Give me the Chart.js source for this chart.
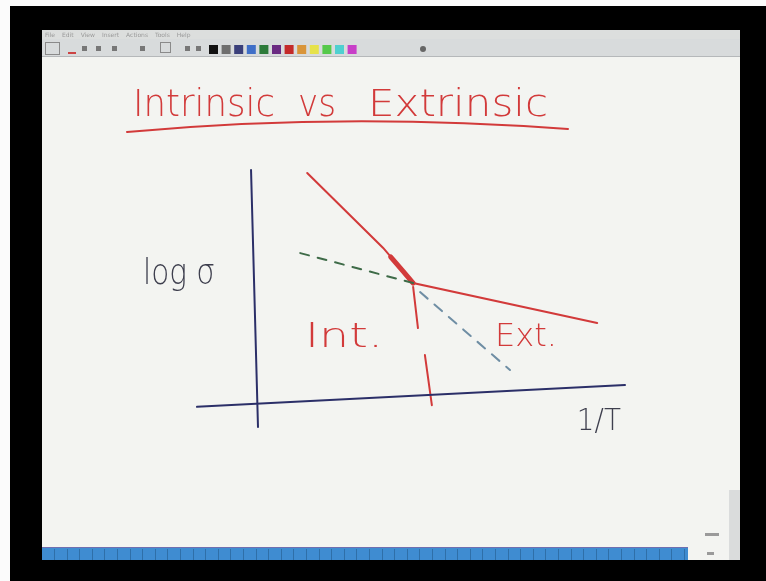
<!DOCTYPE html>
<html>
<head>
<meta charset="utf-8">
<title>Intrinsic vs Extrinsic</title>
<script src="https://cdn.jsdelivr.net/npm/chart.js@4/dist/chart.umd.min.js"></script>
<style>
  html, body { margin: 0; padding: 0; background: #000; overflow: hidden; }
  canvas { display: block; }
</style>
</head>
<body>
<canvas id="c" width="766" height="581"></canvas>
<script>
// Axes of the sketch (1/T horizontal, log sigma vertical), slightly hand-tilted
const axisYx = [0.01, 0.14];
const axisYy = [5.50, -0.50];
const axisXx = [-1.00, 7.00];
const axisXy = [-0.03, 0.48];

// Measured conductivity: steep intrinsic branch, then shallow extrinsic branch
const measuredX = [1.06, 2.48, 3.04, 6.48];
const measuredY = [5.43, 3.68, 2.86, 1.93];

// Retraced pen strokes near the knee
const kneeX = [2.62, 2.85, 3.04];
const kneeY = [3.47, 3.14, 2.86];

// Extrinsic branch extended to high temperature (dashed)
const extrinsicExtX = [0.93, 3.04];
const extrinsicExtY = [3.56, 2.86];

// Intrinsic branch extended to low temperature (dashed)
const intrinsicExtX = [3.17, 4.85];
const intrinsicExtY = [2.65, 0.83];

// Divider between the two regimes, drawn as two strokes
const dividerUpperX = [3.04, 3.13];
const dividerUpperY = [2.77, 1.81];
const dividerLowerX = [3.26, 3.39];
const dividerLowerY = [1.18, 0.01];

// Region and axis labels
const labelText = ['Int.', 'Ext.', 'log σ', '1/T'];
const labelX = [1.02, 4.57, -2.01, 6.10];
const labelY = [1.58, 1.58, 3.05, -0.38];

// Title words with their left edge and width on the page
const titleWords = ['Intrinsic', 'vs', 'Extrinsic'];
const titleLeft = [133, 298, 368];
const titleWidth = [142, 38, 180];

const swatchColors = ['#111111', '#6e6e6e', '#3a3f7a', '#3f6fc8', '#2c7a3a', '#6a2a82',
                      '#c42a2a', '#d9953a', '#e6e24a', '#55c94a', '#4fd0d0', '#c83fc8'];

const pts = (xs, ys) => xs.map((x, i) => ({ x: x, y: ys[i] }));

const RED = '#d23a3a';
const INK = '#2b2f68';
const PENCIL = '#3e3f4e';

// draws a word stretched to a given width
function fitText(ctx, text, x, y, w) {
  const m = ctx.measureText(text).width;
  ctx.save();
  ctx.translate(x, y);
  ctx.scale(w / m, 1);
  ctx.fillText(text, 0, 0);
  ctx.restore();
}

const framePlugin = {
  id: 'frame',
  beforeDraw(chart) {
    const ctx = chart.ctx;
    ctx.save();
    ctx.fillStyle = '#000';
    ctx.fillRect(0, 0, 766, 581);
    ctx.fillStyle = '#fbfbfb';
    ctx.fillRect(0, 0, 10, 581);
    ctx.fillRect(0, 0, 766, 6);
    // page
    ctx.fillStyle = '#f3f4f1';
    ctx.fillRect(42, 30, 698, 530);
    // menu bar
    ctx.fillStyle = '#dcdedd';
    ctx.fillRect(42, 30, 698, 9);
    ctx.fillStyle = '#9a9a9a';
    ctx.font = '6px "DejaVu Sans"';
    ['File', 'Edit', 'View', 'Insert', 'Actions', 'Tools', 'Help'].reduce((x, w) => {
      ctx.fillText(w, x, 37);
      return x + ctx.measureText(w).width + 7;
    }, 45);
    // toolbar
    ctx.fillStyle = '#d8dbdc';
    ctx.fillRect(42, 39, 698, 18);
    ctx.fillStyle = '#b5b8ba';
    ctx.fillRect(42, 56, 698, 1);
    ctx.strokeStyle = '#8a8a8a';
    ctx.lineWidth = 1;
    ctx.strokeRect(45.5, 42.5, 14, 12);
    ctx.strokeRect(160.5, 42.5, 10, 10);
    ctx.fillStyle = '#c44';
    ctx.fillRect(68, 52, 8, 2);
    ctx.fillStyle = '#777';
    [82, 96, 112, 140, 185, 196].forEach(x => ctx.fillRect(x, 46, 5, 5));
    swatchColors.forEach((c, i) => {
      ctx.fillStyle = c;
      ctx.fillRect(209 + i * 12.6, 45, 9, 9);
    });
    ctx.fillStyle = '#666';
    ctx.beginPath();
    ctx.arc(423, 49, 3, 0, Math.PI * 2);
    ctx.fill();
    // scrollbar and page counter
    ctx.fillStyle = '#dadcdc';
    ctx.fillRect(729, 490, 11, 70);
    ctx.fillStyle = '#9a9a9a';
    ctx.fillRect(705, 533, 14, 3);
    ctx.fillRect(707, 552, 7, 3);
    // status bar
    ctx.fillStyle = '#3f8cd1';
    ctx.fillRect(42, 548, 646, 12);
    ctx.fillStyle = '#6f6fb0';
    ctx.fillRect(42, 547, 646, 1);
    ctx.strokeStyle = '#2f6fa8';
    for (let x = 54; x < 688; x += 12.6) {
      ctx.beginPath();
      ctx.moveTo(Math.round(x) + 0.5, 549);
      ctx.lineTo(Math.round(x) + 0.5, 560);
      ctx.stroke();
    }
    ctx.restore();
  },
  afterDatasetsDraw(chart) {
    const ctx = chart.ctx;
    const sx = chart.scales.x, sy = chart.scales.y;
    ctx.save();
    // title with underline
    ctx.fillStyle = RED;
    ctx.font = '200 37px "DejaVu Sans"';
    ctx.textBaseline = 'alphabetic';
    ctx.textAlign = 'left';
    titleWords.forEach((w, i) => fitText(ctx, w, titleLeft[i], 116, titleWidth[i]));
    ctx.strokeStyle = RED;
    ctx.lineWidth = 2;
    ctx.lineCap = 'round';
    ctx.beginPath();
    ctx.moveTo(127, 132);
    ctx.quadraticCurveTo(340, 112, 568, 129);
    ctx.stroke();
    // labels
    ctx.textBaseline = 'middle';
    labelText.forEach((t, i) => {
      const px = sx.getPixelForValue(labelX[i]);
      const py = sy.getPixelForValue(labelY[i]);
      if (i === 0) {
        ctx.fillStyle = RED;
        ctx.font = '200 34px "DejaVu Sans"';
        fitText(ctx, t, px, py, 78);
      } else if (i === 1) {
        ctx.fillStyle = RED;
        ctx.font = '200 32px "DejaVu Sans"';
        fitText(ctx, t, px, py, 62);
      } else if (i === 2) {
        ctx.fillStyle = PENCIL;
        ctx.font = '200 36px "DejaVu Sans"';
        fitText(ctx, t, px, py, 72);
      } else {
        ctx.fillStyle = PENCIL;
        ctx.font = '200 30px "DejaVu Sans"';
        fitText(ctx, t, px, py, 44);
      }
    });
    ctx.restore();
  }
};

const line = (data, color, width, dash) => ({
  data: data,
  borderColor: color,
  borderWidth: width,
  borderDash: dash || [],
  pointRadius: 0,
  showLine: true,
  fill: false,
  clip: false,
  tension: 0,
  borderCapStyle: 'round'
});

new Chart(document.getElementById('c'), {
  type: 'scatter',
  data: {
    datasets: [
      line(pts(axisYx, axisYy), INK, 2),
      line(pts(axisXx, axisXy), INK, 2),
      line(pts(extrinsicExtX, extrinsicExtY), '#3e6b48', 2, [9, 9]),
      line(pts(intrinsicExtX, intrinsicExtY), '#6f8ea4', 2, [10, 9]),
      line(pts(dividerUpperX, dividerUpperY), RED, 2),
      line(pts(dividerLowerX, dividerLowerY), RED, 2),
      line(pts(measuredX, measuredY), RED, 2),
      line(pts(kneeX, kneeY), RED, 5)
    ]
  },
  options: {
    responsive: false,
    animation: false,
    events: [],
    layout: { padding: { left: 197, right: 141, top: 170, bottom: 154 } },
    plugins: { legend: { display: false }, title: { display: false }, tooltip: { enabled: false } },
    scales: {
      x: { type: 'linear', min: -1, max: 7, display: false },
      y: { type: 'linear', min: -0.5, max: 5.5, display: false }
    }
  },
  plugins: [framePlugin]
});
</script>
</body>
</html>
